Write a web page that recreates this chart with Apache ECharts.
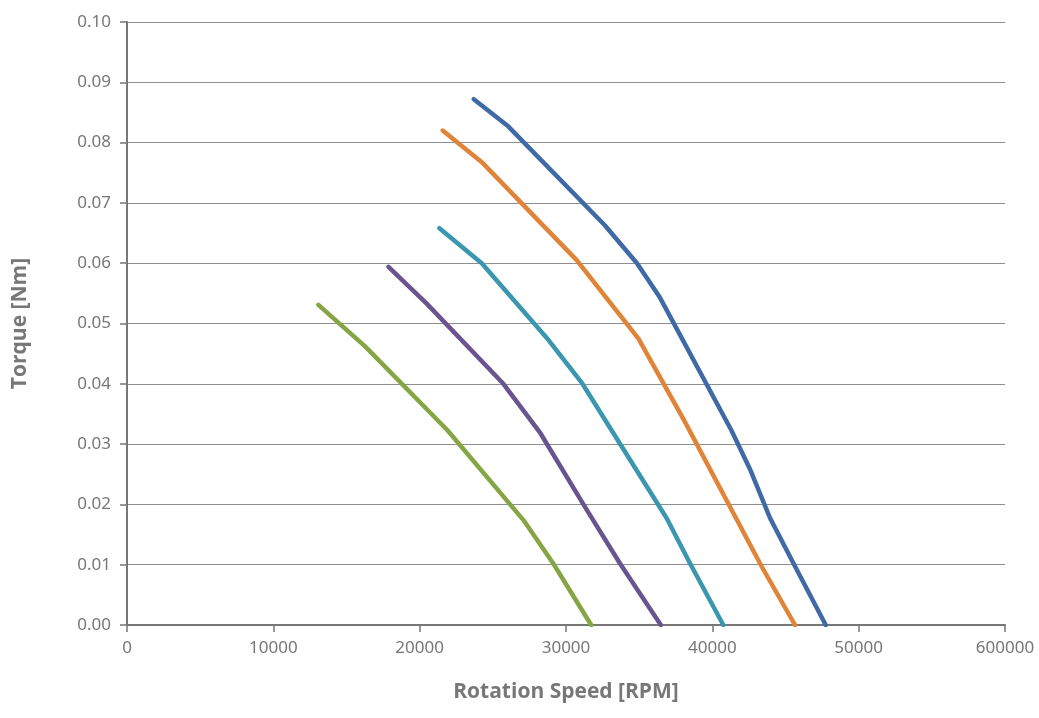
<!DOCTYPE html>
<html>
<head>
<meta charset="utf-8">
<script src="https://cdn.jsdelivr.net/npm/echarts@6/dist/echarts.min.js"></script>
<style>html,body{margin:0;padding:0;background:#fff}#c{width:1039px;height:718px}</style>
</head>
<body>
<div id="c"></div>
<script>
const xTickLabels = ['0','10000','20000','30000','40000','50000','600000'];
const yTickLabels = ['0.00','0.01','0.02','0.03','0.04','0.05','0.06','0.07','0.08','0.09','0.10'];

const blueCurve = [[23700,0.0872],[26050,0.0827],[32650,0.0663],[34850,0.0600],[36420,0.0543],[41300,0.0323],[42600,0.0257],[43950,0.0177],[45550,0.0102],[47750,0]];
const orangeCurve = [[21570,0.0820],[24230,0.0768],[30730,0.0605],[34950,0.0475],[38100,0.0338],[43370,0.0097],[45650,0]];
const tealCurve = [[21350,0.0658],[24240,0.0600],[28790,0.0473],[31100,0.0401],[36880,0.0177],[38480,0.0102],[40750,0]];
const purpleCurve = [[17870,0.0594],[20480,0.0533],[25720,0.0400],[28200,0.0320],[31420,0.0191],[33690,0.0102],[36480,0]];
const greenCurve = [[13080,0.0531],[16270,0.0462],[21900,0.0323],[27090,0.0174],[29130,0.0102],[31720,0]];

const seriesDefs = [
  {name:'S1', data: blueCurve, color:'#3f6aa6'},
  {name:'S2', data: orangeCurve, color:'#e0843a'},
  {name:'S3', data: tealCurve, color:'#3b97b0'},
  {name:'S4', data: purpleCurve, color:'#6a548f'},
  {name:'S5', data: greenCurve, color:'#86a646'}
];

const chart = echarts.init(document.getElementById('c'));
chart.setOption({
  animation: false,
  backgroundColor: '#fff',
  grid: {left: 127, right: 34, top: 22, bottom: 93, containLabel: false, outerBoundsMode: 'none'},
  xAxis: {
    type: 'value', min: 0, max: 60000, interval: 10000,
    name: 'Rotation Speed [RPM]', nameLocation: 'middle', nameGap: 57,
    nameTextStyle: {fontFamily: 'Open Sans', fontWeight: 'bold', fontSize: 21, color: '#777'},
    axisLine: {show: true, lineStyle: {color: '#777', width: 2}},
    axisTick: {show: true, length: 7, lineStyle: {color: '#777', width: 1.5}},
    axisLabel: {fontFamily: 'Noto Sans', fontSize: 17, color: '#777', margin: 15,
      formatter: function(v){ return xTickLabels[Math.round(v/10000)]; }},
    splitLine: {show: false}
  },
  yAxis: {
    type: 'value', min: 0, max: 0.1, interval: 0.01,
    name: 'Torque [Nm]', nameLocation: 'middle', nameGap: 96, nameRotate: 90,
    nameTextStyle: {fontFamily: 'Open Sans', fontWeight: 'bold', fontSize: 21, color: '#777'},
    axisLine: {show: true, lineStyle: {color: '#777', width: 2}},
    axisTick: {show: true, length: 7, lineStyle: {color: '#777', width: 1.5}},
    axisLabel: {fontFamily: 'Noto Sans', fontSize: 17, color: '#777', margin: 16,
      formatter: function(v){ return yTickLabels[Math.round(v*100)]; }},
    splitLine: {show: true, lineStyle: {color: '#8e8e8e', width: 1}}
  },
  series: seriesDefs.map(s => ({
    name: s.name, type: 'line', data: s.data, showSymbol: false, symbol: 'none',
    lineStyle: {color: s.color, width: 4.5, cap: 'round', join: 'round'},
    itemStyle: {color: s.color}
  }))
});
</script>
</body>
</html>
